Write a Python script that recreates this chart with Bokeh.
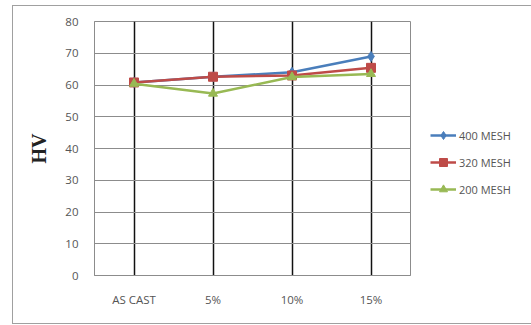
from bokeh.plotting import figure
from bokeh.models import Legend, LegendItem, FactorRange, Range1d, FixedTicker
from bokeh.embed import file_html
from bokeh.resources import INLINE

categories = ["AS CAST", "5%", "10%", "15%"]
mesh400 = [60.8, 62.6, 64.0, 69.0]
mesh320 = [60.8, 62.6, 63.0, 65.4]
mesh200 = [60.4, 57.3, 62.5, 63.5]
series_names = ["400 MESH", "320 MESH", "200 MESH"]
y_ticks = [0, 10, 20, 30, 40, 50, 60, 70, 80]

p = figure(frame_width=316, frame_height=254, x_range=FactorRange(*categories), y_range=Range1d(0, 80),
           output_backend="svg", toolbar_location=None, margin=(5, 0, 0, 12),
           min_border_left=81, min_border_right=121, min_border_top=15, min_border_bottom=48)
p.styles = {"border": "1px solid #a0a0a0", "border-right": "none"}
p.outline_line_color = "#8c8c8c"
p.outline_line_width = 1

p.yaxis.ticker = FixedTicker(ticks=y_ticks)
for ax in (p.xaxis, p.yaxis):
    ax.axis_line_color = "#8c8c8c"
    ax.major_tick_line_color = None
    ax.minor_tick_line_color = None
    ax.major_label_text_font = "Open Sans"
    ax.major_label_text_font_size = "11.5px"
    ax.major_label_text_color = "#555555"
p.xaxis.major_label_standoff = 10
p.yaxis.major_label_standoff = 10
p.yaxis.axis_label = "HV"
p.yaxis.axis_label_text_font = "Liberation Serif"
p.yaxis.axis_label_text_font_style = "bold"
p.yaxis.axis_label_text_font_size = "20px"
p.yaxis.axis_label_text_color = "#222222"
p.yaxis.axis_label_standoff = 12

p.xgrid.grid_line_color = "#111111"
p.xgrid.grid_line_width = 1.5
p.ygrid.grid_line_color = "#8c8c8c"
p.ygrid.grid_line_width = 1

colors = ["#4A7EBB", "#BE4B48", "#98B954"]
items = []
data = [mesh400, mesh320, mesh200]
markers = ["diamond", "square", "triangle"]
sizes = [10, 9, 9]
for name, vals, c, m, s in zip(series_names, data, colors, markers, sizes):
    l = p.line(categories, vals, line_color=c, line_width=2.5)
    sc = p.scatter(categories, vals, marker=m, size=s, fill_color=c, line_color=c)
    items.append(LegendItem(label=name, renderers=[l, sc]))

legend = Legend(items=items, location="top_left", background_fill_alpha=0, border_line_color=None,
                title=" ", title_text_font_size="10px", title_standoff=73,
                label_text_font="Open Sans", label_text_font_size="11px", label_text_color="#555555",
                glyph_width=26, glyph_height=20, spacing=7, label_standoff=3, padding=0, margin=20)
p.add_layout(legend, "right")

open("out.html", "w").write(file_html(p, INLINE))
